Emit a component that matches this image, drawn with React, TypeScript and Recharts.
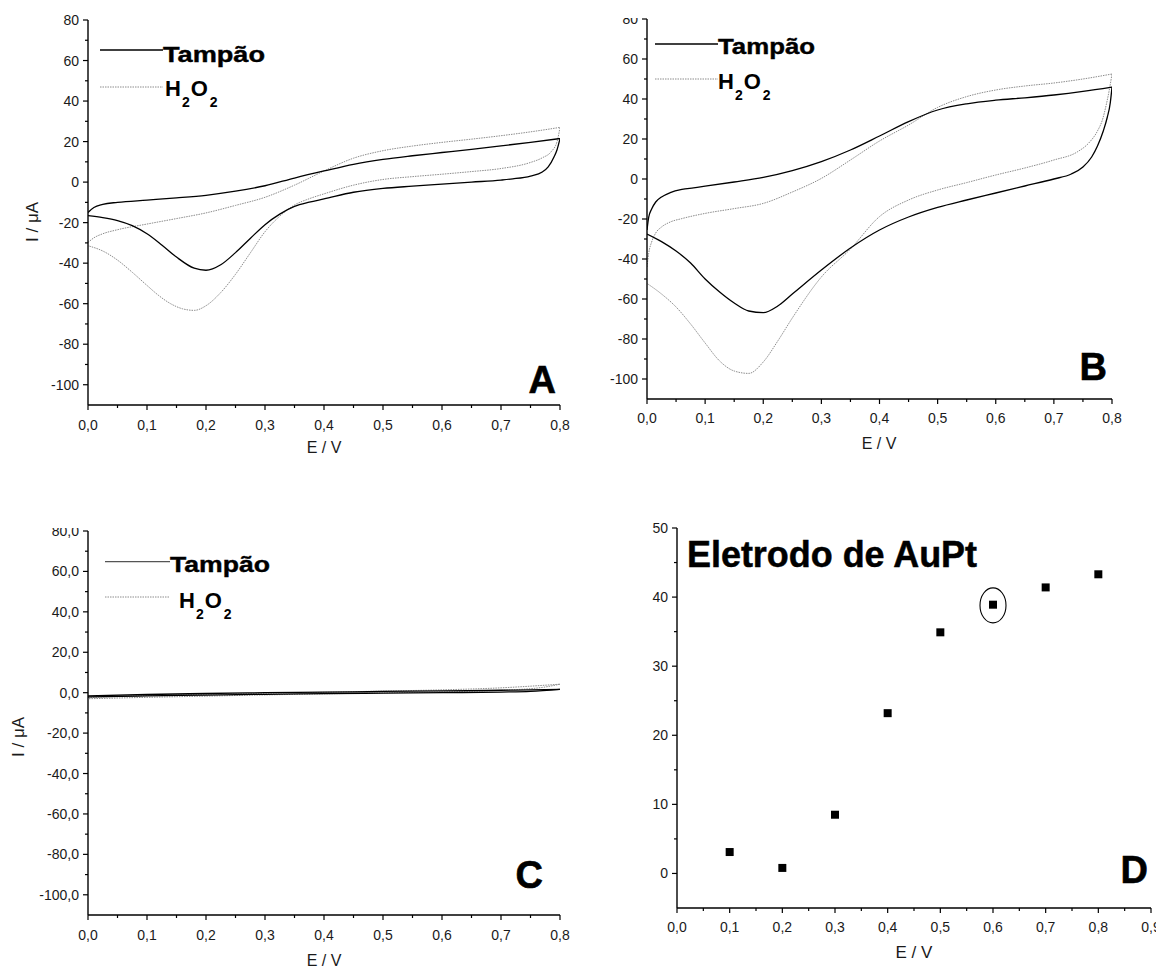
import React from 'react';
import { LineChart, Line, XAxis, YAxis, ScatterChart, Scatter, ReferenceDot } from 'recharts';

type Pt = [number, number];

const FONT = '"Liberation Sans", Arial, Helvetica, sans-serif';
const NARROW = '"Liberation Sans Narrow", "Liberation Sans", Arial, sans-serif';

// ---------- labels ----------
const legendLabels = ['Tampão', 'H2O2'];
const axisTitleE = 'E / V';
const axisTitleI = 'I / μA';
const panelLetters = ['A', 'B', 'C', 'D'];
const panelDTitle = 'Eletrodo de AuPt';

// ---------- ticks ----------
const cvETicks = [0, 0.1, 0.2, 0.3, 0.4, 0.5, 0.6, 0.7, 0.8];
const cvEMinorTicks = [0.05, 0.15, 0.25, 0.35, 0.45, 0.55, 0.65, 0.75];
const cvITicks = [-100, -80, -60, -40, -20, 0, 20, 40, 60, 80];
const cvIMinorTicks = [-90, -70, -50, -30, -10, 10, 30, 50, 70];
const dETicks = [0, 0.1, 0.2, 0.3, 0.4, 0.5, 0.6, 0.7, 0.8, 0.9];
const dEMinorTicks = [0.05, 0.15, 0.25, 0.35, 0.45, 0.55, 0.65, 0.75, 0.85];
const dITicks = [0, 10, 20, 30, 40, 50];
const dIMinorTicks = [5, 15, 25, 35, 45];

// ---------- Panel A (E / V, I / µA) ----------
const aTampaoFwd: Pt[] = [
  [0, -15], [0.01, -12.5], [0.025, -11], [0.05, -10], [0.1, -8.9], [0.15, -7.8], [0.2, -6.5],
  [0.25, -4.5], [0.3, -1.8], [0.35, 2], [0.4, 5.5], [0.45, 8.8], [0.5, 11.2], [0.55, 13],
  [0.6, 14.6], [0.65, 16.2], [0.7, 17.9], [0.75, 19.6], [0.8, 21.5],
];
const aTampaoRev: Pt[] = [
  [0.8, 21.5], [0.795, 16], [0.79, 12.5], [0.78, 7.5], [0.77, 5], [0.75, 3], [0.72, 1.6],
  [0.7, 1], [0.65, 0], [0.6, -1], [0.55, -2], [0.5, -3.1], [0.45, -5], [0.4, -8.3], [0.375, -9.9],
  [0.35, -12], [0.325, -15.8], [0.3, -21], [0.275, -27.8], [0.25, -34.8], [0.225, -40.8], [0.2, -43.5],
  [0.18, -42.5], [0.15, -37], [0.125, -31], [0.1, -25.5], [0.075, -21.5], [0.05, -19],
  [0.025, -17.5], [0, -16.5],
];
const aH2O2Fwd: Pt[] = [
  [0, -29.8], [0.01, -27.5], [0.025, -25.5], [0.05, -23.5], [0.1, -20.7], [0.15, -18],
  [0.2, -15.2], [0.25, -11.5], [0.3, -7.5], [0.35, -1.5], [0.4, 5.5], [0.45, 11.8], [0.5, 15.5],
  [0.55, 17.8], [0.6, 19.6], [0.65, 21.2], [0.7, 22.9], [0.75, 24.8], [0.8, 27],
];
const aH2O2Rev: Pt[] = [
  [0.8, 27], [0.795, 20], [0.785, 15], [0.77, 12], [0.75, 9.7], [0.7, 6.7], [0.65, 5.2],
  [0.6, 3.9], [0.55, 2.7], [0.5, 1.3], [0.45, -1.5], [0.4, -5.8], [0.375, -8.2], [0.35, -11.3],
  [0.325, -16.8], [0.3, -24.5], [0.275, -35], [0.25, -45.5], [0.225, -54.5], [0.2, -61],
  [0.18, -63.3], [0.16, -62.5], [0.14, -60], [0.12, -56], [0.1, -51], [0.075, -44.5],
  [0.05, -38.5], [0.025, -34], [0, -31.4],
];

// ---------- Panel B ----------
const bTampaoFwd: Pt[] = [
  [0, -25.5], [0.003, -19], [0.008, -15], [0.015, -11.5], [0.025, -9], [0.04, -6.8],
  [0.06, -5.2], [0.08, -4.4], [0.1, -3.6], [0.15, -1.5], [0.2, 0.8], [0.25, 4.2], [0.3, 8.7],
  [0.35, 14.5], [0.4, 21.5], [0.45, 28.7], [0.5, 34.5], [0.55, 37.6], [0.6, 39.4], [0.65, 40.6],
  [0.7, 42], [0.75, 43.8], [0.8, 46],
];
const bTampaoRev: Pt[] = [
  [0.8, 46], [0.797, 38], [0.792, 31], [0.785, 24], [0.775, 16.5], [0.765, 11], [0.75, 6],
  [0.73, 2.5], [0.7, 0], [0.65, -3.5], [0.6, -7], [0.55, -10.5], [0.5, -14.2], [0.45, -19],
  [0.4, -25.5], [0.35, -34.5], [0.3, -45.5], [0.25, -57.5], [0.225, -63.5], [0.2, -66.8], [0.175, -66],
  [0.15, -62], [0.125, -56.5], [0.1, -50], [0.075, -42], [0.05, -36], [0.025, -31.3], [0, -27.5],
];
const bH2O2Fwd: Pt[] = [
  [0, -44], [0.003, -37], [0.008, -31.5], [0.015, -27], [0.025, -24], [0.04, -21.5],
  [0.06, -19.8], [0.1, -17.2], [0.15, -14.8], [0.2, -12.2], [0.25, -6.5], [0.3, 0.3],
  [0.35, 9.5], [0.4, 19], [0.45, 27], [0.5, 35.8], [0.55, 41.2], [0.6, 44.5], [0.65, 46.5],
  [0.7, 48], [0.75, 50], [0.8, 52.5],
];
const bH2O2Rev: Pt[] = [
  [0.8, 52.5], [0.795, 44], [0.79, 37], [0.784, 30], [0.775, 24], [0.76, 18], [0.74, 13.5],
  [0.7, 9.5], [0.65, 5.5], [0.6, 2], [0.55, -1.8], [0.5, -5.5], [0.45, -10.5], [0.4, -18.8],
  [0.35, -35], [0.3, -49], [0.25, -69.5], [0.225, -81], [0.2, -91.5], [0.175, -97.2],
  [0.15, -96], [0.125, -91], [0.1, -82], [0.075, -72.5], [0.05, -64], [0.025, -57.5], [0, -52.2],
];

// ---------- Panel C ----------
const cTampaoFwd: Pt[] = [
  [0, -1.6], [0.1, -0.9], [0.2, -0.4], [0.3, 0], [0.4, 0.3], [0.5, 0.6], [0.6, 0.9],
  [0.7, 1.2], [0.8, 1.6],
];
const cTampaoRev: Pt[] = [
  [0.8, 1.6], [0.75, 0.6], [0.7, 0.3], [0.6, 0], [0.5, -0.2], [0.4, -0.5], [0.3, -0.8],
  [0.2, -1.2], [0.1, -1.6], [0, -2.1],
];
const cH2O2Fwd: Pt[] = [
  [0, -2.4], [0.1, -1.4], [0.2, -0.8], [0.3, -0.3], [0.4, 0.2], [0.5, 0.8], [0.6, 1.4],
  [0.7, 2.4], [0.8, 4.2],
];
const cH2O2Rev: Pt[] = [
  [0.8, 4.2], [0.77, 2.6], [0.7, 1.2], [0.6, 0.4], [0.5, -0.1], [0.4, -0.6], [0.3, -1.1],
  [0.2, -1.7], [0.1, -2.3], [0, -3],
];

// ---------- Panel D ----------
const dE = [0.1, 0.2, 0.3, 0.4, 0.5, 0.6, 0.7, 0.8];
const dI = [3.1, 0.8, 8.5, 23.2, 34.9, 38.9, 41.4, 43.3];
const dHighlightE = 0.6;
const dHighlightI = 38.8;

// ---------- helpers ----------
const toData = (pts: Pt[]) => pts.map(([x, y]) => ({ x, y }));
const fmtInt = (v: number) => String(Math.round(v));
const fmt1 = (v: number) => v.toFixed(1).replace('.', ',');
const merge = (a: number[], b: number[]) => [...a, ...b].sort((p, q) => p - q);

type Side = 'bottom' | 'left' | 'top' | 'right';

function makeTick(side: Side, majors: number[], fmt: ((v: number) => string) | null, opts: { off?: number; fontFamily?: string; fontSize?: number } = {}) {
  const off = opts.off ?? 25;
  const ff = opts.fontFamily ?? FONT;
  const fs = opts.fontSize ?? 14;
  return (props: any) => {
    const { x, y, payload } = props;
    const v = payload.value;
    const major = majors.includes(v);
    let line: React.ReactNode = null;
    let label: React.ReactNode = null;
    if (side === 'bottom') {
      const len = major ? 5 : 3;
      line = <line x1={x} x2={x} y1={y} y2={y + len} stroke="#000" strokeWidth={1.2} />;
      if (major && fmt) label = <text x={x} y={y + off} textAnchor="middle" fontFamily={ff} fontSize={fs} fill="#1a1a1a">{fmt(v)}</text>;
    } else if (side === 'left') {
      const len = major ? 5 : 3;
      line = <line x1={x - len} x2={x} y1={y} y2={y} stroke="#000" strokeWidth={1.2} />;
      if (major && fmt) label = <text x={x - 9} y={y + 5} textAnchor="end" fontFamily={ff} fontSize={fs} fill="#1a1a1a">{fmt(v)}</text>;
    } else if (side === 'top') {
      const len = major ? 3 : 2;
      line = <line x1={x} x2={x} y1={y} y2={y + len} stroke="#333" strokeWidth={1} />;
    } else {
      const len = major ? 3 : 2;
      line = <line x1={x - len} x2={x} y1={y} y2={y} stroke="#333" strokeWidth={1} />;
    }
    return <g>{line}{label}</g>;
  };
}

const axisLine = { stroke: '#000', strokeWidth: 1.4 };

function H2O2Text({ x, y, size = 22 }: { x: number; y: number; size?: number }) {
  const sub = Math.round(size * 0.62);
  const dy = Math.round(size * 0.52);
  return (
    <text x={x} y={y} fontFamily={FONT} fontWeight="bold" fontSize={size} fill="#000">
      <tspan>{legendLabels[1][0]}</tspan>
      <tspan dx={1} dy={dy} fontSize={sub}>{legendLabels[1][1]}</tspan>
      <tspan dx={1} dy={-dy}>{legendLabels[1][2]}</tspan>
      <tspan dx={2} dy={dy} fontSize={sub}>{legendLabels[1][3]}</tspan>
    </text>
  );
}

type LegendCfg = {
  lx0: number; lx1: number; ly1: number; ly2: number;
  t1x: number; t1y: number; t1w: number; t2x: number; t2y: number; solid: string;
};

function CVLegend({ c }: { c: LegendCfg }) {
  return (
    <g>
      <line x1={c.lx0} x2={c.lx1} y1={c.ly1} y2={c.ly1} stroke={c.solid} strokeWidth={1.3} />
      <text x={c.t1x} y={c.t1y} fontFamily={FONT} fontWeight="bold" fontSize={22} fill="#000" stroke="#000" strokeWidth={0.4} textLength={c.t1w} lengthAdjust="spacingAndGlyphs">{legendLabels[0]}</text>
      <line x1={c.lx0} x2={c.lx1} y1={c.ly2} y2={c.ly2} stroke="#8c8c8c" strokeWidth={1} strokeDasharray="1.5 1" />
      <H2O2Text x={c.t2x} y={c.t2y} />
    </g>
  );
}

type CVCfg = {
  width: number; height: number;
  margin: { top: number; right: number; left: number; bottom: number };
  yWidth: number; xHeight: number;
  series: [Pt[], Pt[], Pt[], Pt[]];
  yFmt: (v: number) => string;
  legend: LegendCfg;
  letter: string; letterX: number; letterY: number;
  xTitle: { x: number; y: number };
  yTitle?: { x: number; y: number };
  tickOff: number;
};

function CVChart({ cfg }: { cfg: CVCfg }) {
  const [tf, tr, hf, hr] = cfg.series;
  const allE = merge(cvETicks, cvEMinorTicks);
  const allI = merge(cvITicks, cvIMinorTicks);
  const blackLine = { stroke: '#000', strokeWidth: 1.3 };
  const grayLine = { stroke: '#8c8c8c', strokeWidth: 1, strokeDasharray: '1.5 1' };
  return (
    <LineChart width={cfg.width} height={cfg.height} margin={cfg.margin}>
      <XAxis xAxisId={0} type="number" dataKey="x" domain={[0, 0.8]} ticks={allE} interval={0}
        tickSize={0} tickMargin={0} height={cfg.xHeight} axisLine={axisLine} tickLine={false}
        tick={makeTick('bottom', cvETicks, fmt1, { off: cfg.tickOff })} allowDataOverflow />
      <XAxis xAxisId="top" orientation="top" type="number" dataKey="x" domain={[0, 0.8]} ticks={allE} interval={0}
        tickSize={0} tickMargin={0} height={0} axisLine={axisLine} tickLine={false}
        tick={makeTick('top', cvETicks, null)} allowDataOverflow />
      <YAxis yAxisId={0} type="number" domain={[-110, 80]} ticks={allI} interval={0}
        tickSize={0} tickMargin={0} width={cfg.yWidth} axisLine={axisLine} tickLine={false}
        tick={makeTick('left', cvITicks, cfg.yFmt)} allowDataOverflow />
      <YAxis yAxisId="right" orientation="right" type="number" domain={[-110, 80]} ticks={allI} interval={0}
        tickSize={0} tickMargin={0} width={0} axisLine={axisLine} tickLine={false}
        tick={makeTick('right', cvITicks, null)} allowDataOverflow />
      <Line data={toData(hf)} dataKey="y" type="monotone" dot={false} activeDot={false} isAnimationActive={false} {...grayLine} />
      <Line data={toData(hr)} dataKey="y" type="monotone" dot={false} activeDot={false} isAnimationActive={false} {...grayLine} />
      <Line data={toData(tf)} dataKey="y" type="monotone" dot={false} activeDot={false} isAnimationActive={false} {...blackLine} />
      <Line data={toData(tr)} dataKey="y" type="monotone" dot={false} activeDot={false} isAnimationActive={false} {...blackLine} />
      <CVLegend c={cfg.legend} />
      <text x={cfg.letterX} y={cfg.letterY} textAnchor="end" fontFamily={FONT} fontWeight="bold" fontSize={38} fill="#000" stroke="#000" strokeWidth={0.6}>{cfg.letter}</text>
      <text x={cfg.xTitle.x} y={cfg.xTitle.y} textAnchor="middle" fontFamily={FONT} fontSize={16} fill="#1a1a1a">{axisTitleE}</text>
      {cfg.yTitle && (
        <text x={cfg.yTitle.x} y={cfg.yTitle.y} textAnchor="middle" dominantBaseline="central" fontFamily={FONT} fontSize={17} fill="#1a1a1a"
          transform={`rotate(-90, ${cfg.yTitle.x}, ${cfg.yTitle.y})`}>{axisTitleI}</text>
      )}
    </LineChart>
  );
}

function DChart() {
  const data = dE.map((x, i) => ({ x, y: dI[i] }));
  const allE = merge(dETicks, dEMinorTicks);
  const allI = merge(dITicks, dIMinorTicks);
  return (
    <ScatterChart width={576} height={488} margin={{ top: 48, right: 5, left: 0, bottom: 0 }}>
      <XAxis xAxisId={0} type="number" dataKey="x" domain={[0, 0.9]} ticks={allE} interval={0}
        tickSize={0} tickMargin={0} height={60} axisLine={axisLine} tickLine={false}
        tick={makeTick('bottom', dETicks, fmt1, { off: 24, fontFamily: NARROW, fontSize: 14 })} allowDataOverflow />
      <XAxis xAxisId="top" orientation="top" type="number" dataKey="x" domain={[0, 0.9]} ticks={allE} interval={0}
        tickSize={0} tickMargin={0} height={0} axisLine={axisLine} tickLine={false}
        tick={makeTick('top', dETicks, null)} allowDataOverflow />
      <YAxis yAxisId={0} type="number" dataKey="y" domain={[-5, 50]} ticks={allI} interval={0}
        tickSize={0} tickMargin={0} width={97} axisLine={axisLine} tickLine={false}
        tick={makeTick('left', dITicks, fmtInt, { fontFamily: NARROW, fontSize: 14 })} allowDataOverflow />
      <YAxis yAxisId="right" orientation="right" type="number" dataKey="y" domain={[-5, 50]} ticks={allI} interval={0}
        tickSize={0} tickMargin={0} width={0} axisLine={axisLine} tickLine={false}
        tick={makeTick('right', dITicks, null)} allowDataOverflow />
      <Scatter data={data} fill="#000" shape="square" isAnimationActive={false} />
      <ReferenceDot x={dHighlightE} y={dHighlightI} r={0} isFront
        shape={(p: any) => <ellipse cx={p.cx} cy={p.cy} rx={13} ry={17.5} fill="none" stroke="#000" strokeWidth={1.1} />} />
      <text x={107} y={86.5} fontFamily={NARROW} fontWeight="bold" fontSize={36} fill="#000" stroke="#000" strokeWidth={0.5} textLength={290} lengthAdjust="spacingAndGlyphs">{panelDTitle}</text>
      <text x={568} y={403} textAnchor="end" fontFamily={FONT} fontWeight="bold" fontSize={38} fill="#000" stroke="#000" strokeWidth={0.6}>{panelLetters[3]}</text>
      <text x={334} y={478} textAnchor="middle" fontFamily={NARROW} fontSize={17} fill="#1a1a1a">{axisTitleE}</text>
    </ScatterChart>
  );
}

const cfgA: CVCfg = {
  width: 580, height: 470, margin: { top: 20, right: 20, left: 0, bottom: 0 }, yWidth: 88, xHeight: 65,
  series: [aTampaoFwd, aTampaoRev, aH2O2Fwd, aH2O2Rev], yFmt: fmtInt,
  legend: { lx0: 100, lx1: 163, ly1: 50, ly2: 87, t1x: 163, t1y: 61.5, t1w: 102, t2x: 165, t2y: 95.7, solid: '#000' },
  letter: panelLetters[0], letterX: 556, letterY: 393,
  xTitle: { x: 324, y: 453 }, yTitle: { x: 32, y: 222 }, tickOff: 25,
};
const cfgB: CVCfg = {
  width: 576, height: 470, margin: { top: 19, right: 44, left: 0, bottom: 0 }, yWidth: 67, xHeight: 71,
  series: [bTampaoFwd, bTampaoRev, bH2O2Fwd, bH2O2Rev], yFmt: fmtInt,
  legend: { lx0: 75, lx1: 138, ly1: 44, ly2: 79, t1x: 138, t1y: 53.5, t1w: 97, t2x: 138, t2y: 88.5, solid: '#000' },
  letter: panelLetters[1], letterX: 527, letterY: 380,
  xTitle: { x: 299, y: 449 }, tickOff: 24,
};
const cfgC: CVCfg = {
  width: 580, height: 488, margin: { top: 51, right: 20, left: 0, bottom: 0 }, yWidth: 88, xHeight: 53,
  series: [cTampaoFwd, cTampaoRev, cH2O2Fwd, cH2O2Rev], yFmt: fmt1,
  legend: { lx0: 105, lx1: 170, ly1: 81.7, ly2: 117, t1x: 170, t1y: 92, t1w: 100, t2x: 179, t2y: 127.7, solid: '#555' },
  letter: panelLetters[2], letterX: 543, letterY: 408,
  xTitle: { x: 324, y: 486 }, yTitle: { x: 18, y: 257 }, tickOff: 25,
};

function Panel({ left, top, clipTop, width, height, children }: { left: number; top: number; clipTop: number; width: number; height: number; children: React.ReactNode }) {
  return (
    <div style={{ position: 'absolute', left, top: clipTop, width, height: height - (clipTop - top), overflow: 'hidden' }}>
      <div style={{ position: 'absolute', left: 0, top: top - clipTop }}>{children}</div>
    </div>
  );
}

export default function App() {
  return (
    <div style={{ position: 'absolute', left: 0, top: 0, width: 1156, height: 968, background: '#fff', overflow: 'hidden' }}>
      <Panel left={0} top={0} clipTop={0} width={580} height={470}><CVChart cfg={cfgA} /></Panel>
      <Panel left={580} top={0} clipTop={18} width={576} height={470}><CVChart cfg={cfgB} /></Panel>
      <Panel left={0} top={480} clipTop={527.5} width={580} height={488}><CVChart cfg={cfgC} /></Panel>
      <Panel left={580} top={480} clipTop={480} width={576} height={488}><DChart /></Panel>
    </div>
  );
}
